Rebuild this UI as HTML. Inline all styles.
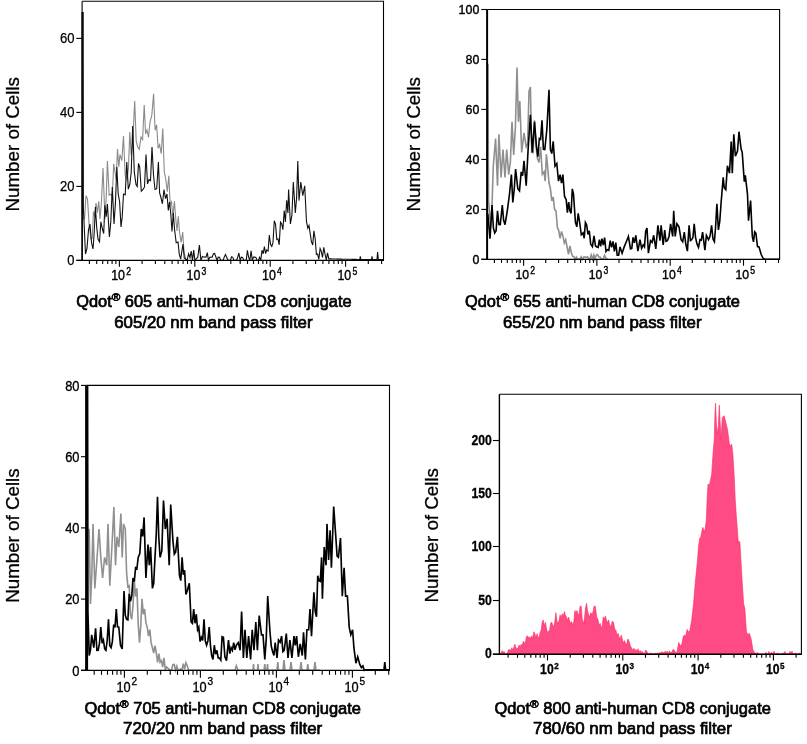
<!DOCTYPE html>
<html><head><meta charset="utf-8"><title>Qdot CD8 conjugates</title>
<style>
html,body{margin:0;padding:0;background:#fff;}
body{width:807px;height:744px;overflow:hidden;}
svg{display:block;}
text{font-family:'Liberation Sans', Arial, sans-serif;fill:#000;}
.cap{stroke:#000;stroke-width:0.7px;}
.tk{stroke:#000;stroke-width:0.15px;}
.tkb{stroke:#000;stroke-width:0.1px;}
</style></head><body>
<svg width="807" height="744" viewBox="0 0 807 744">
<rect width="807" height="744" fill="#fff"/>
<path d="M82.1,1.3H383.5V260.4" fill="none" stroke="#000" stroke-width="1.1"/>
<line x1="76.3" y1="260.4" x2="82.1" y2="260.4" stroke="#000" stroke-width="1.1"/>
<text x="74.4" y="264.8" font-size="14.2" text-anchor="end" font-weight="normal" textLength="7.2" lengthAdjust="spacingAndGlyphs" style="stroke:#000;stroke-width:0.25px">0</text>
<line x1="76.3" y1="186.4" x2="82.1" y2="186.4" stroke="#000" stroke-width="1.1"/>
<text x="74.4" y="190.8" font-size="14.2" text-anchor="end" font-weight="normal" textLength="14.5" lengthAdjust="spacingAndGlyphs" style="stroke:#000;stroke-width:0.25px">20</text>
<line x1="76.3" y1="112.4" x2="82.1" y2="112.4" stroke="#000" stroke-width="1.1"/>
<text x="74.4" y="116.9" font-size="14.2" text-anchor="end" font-weight="normal" textLength="14.5" lengthAdjust="spacingAndGlyphs" style="stroke:#000;stroke-width:0.25px">40</text>
<line x1="76.3" y1="38.4" x2="82.1" y2="38.4" stroke="#000" stroke-width="1.1"/>
<text x="74.4" y="42.9" font-size="14.2" text-anchor="end" font-weight="normal" textLength="14.5" lengthAdjust="spacingAndGlyphs" style="stroke:#000;stroke-width:0.25px">60</text>
<line x1="89.4" y1="260.4" x2="89.4" y2="264.0" stroke="#000" stroke-width="1.1"/>
<line x1="96.7" y1="260.4" x2="96.7" y2="264.0" stroke="#000" stroke-width="1.1"/>
<line x1="102.7" y1="260.4" x2="102.7" y2="264.0" stroke="#000" stroke-width="1.1"/>
<line x1="107.7" y1="260.4" x2="107.7" y2="264.0" stroke="#000" stroke-width="1.1"/>
<line x1="112.1" y1="260.4" x2="112.1" y2="264.0" stroke="#000" stroke-width="1.1"/>
<line x1="115.9" y1="260.4" x2="115.9" y2="264.0" stroke="#000" stroke-width="1.1"/>
<line x1="119.4" y1="260.4" x2="119.4" y2="266.8" stroke="#000" stroke-width="1.1"/>
<text x="118.1" y="279.8" font-size="14.0" text-anchor="middle" font-weight="normal" textLength="13.8" lengthAdjust="spacingAndGlyphs" style="stroke:#000;stroke-width:0.4px">10</text>
<text x="126.2" y="274.8" font-size="10.5" text-anchor="start" font-weight="normal" textLength="4.8" lengthAdjust="spacingAndGlyphs" style="stroke:#000;stroke-width:0.4px">2</text>
<line x1="142.1" y1="260.4" x2="142.1" y2="264.0" stroke="#000" stroke-width="1.1"/>
<line x1="155.4" y1="260.4" x2="155.4" y2="264.0" stroke="#000" stroke-width="1.1"/>
<line x1="164.8" y1="260.4" x2="164.8" y2="264.0" stroke="#000" stroke-width="1.1"/>
<line x1="172.1" y1="260.4" x2="172.1" y2="264.0" stroke="#000" stroke-width="1.1"/>
<line x1="178.1" y1="260.4" x2="178.1" y2="264.0" stroke="#000" stroke-width="1.1"/>
<line x1="183.1" y1="260.4" x2="183.1" y2="264.0" stroke="#000" stroke-width="1.1"/>
<line x1="187.5" y1="260.4" x2="187.5" y2="264.0" stroke="#000" stroke-width="1.1"/>
<line x1="191.3" y1="260.4" x2="191.3" y2="264.0" stroke="#000" stroke-width="1.1"/>
<line x1="194.8" y1="260.4" x2="194.8" y2="266.8" stroke="#000" stroke-width="1.1"/>
<text x="193.5" y="279.8" font-size="14.0" text-anchor="middle" font-weight="normal" textLength="13.8" lengthAdjust="spacingAndGlyphs" style="stroke:#000;stroke-width:0.4px">10</text>
<text x="201.6" y="274.8" font-size="10.5" text-anchor="start" font-weight="normal" textLength="4.8" lengthAdjust="spacingAndGlyphs" style="stroke:#000;stroke-width:0.4px">3</text>
<line x1="217.5" y1="260.4" x2="217.5" y2="264.0" stroke="#000" stroke-width="1.1"/>
<line x1="230.8" y1="260.4" x2="230.8" y2="264.0" stroke="#000" stroke-width="1.1"/>
<line x1="240.2" y1="260.4" x2="240.2" y2="264.0" stroke="#000" stroke-width="1.1"/>
<line x1="247.5" y1="260.4" x2="247.5" y2="264.0" stroke="#000" stroke-width="1.1"/>
<line x1="253.5" y1="260.4" x2="253.5" y2="264.0" stroke="#000" stroke-width="1.1"/>
<line x1="258.5" y1="260.4" x2="258.5" y2="264.0" stroke="#000" stroke-width="1.1"/>
<line x1="262.9" y1="260.4" x2="262.9" y2="264.0" stroke="#000" stroke-width="1.1"/>
<line x1="266.7" y1="260.4" x2="266.7" y2="264.0" stroke="#000" stroke-width="1.1"/>
<line x1="270.2" y1="260.4" x2="270.2" y2="266.8" stroke="#000" stroke-width="1.1"/>
<text x="268.9" y="279.8" font-size="14.0" text-anchor="middle" font-weight="normal" textLength="13.8" lengthAdjust="spacingAndGlyphs" style="stroke:#000;stroke-width:0.4px">10</text>
<text x="277.0" y="274.8" font-size="10.5" text-anchor="start" font-weight="normal" textLength="4.8" lengthAdjust="spacingAndGlyphs" style="stroke:#000;stroke-width:0.4px">4</text>
<line x1="292.9" y1="260.4" x2="292.9" y2="264.0" stroke="#000" stroke-width="1.1"/>
<line x1="306.2" y1="260.4" x2="306.2" y2="264.0" stroke="#000" stroke-width="1.1"/>
<line x1="315.6" y1="260.4" x2="315.6" y2="264.0" stroke="#000" stroke-width="1.1"/>
<line x1="322.9" y1="260.4" x2="322.9" y2="264.0" stroke="#000" stroke-width="1.1"/>
<line x1="328.9" y1="260.4" x2="328.9" y2="264.0" stroke="#000" stroke-width="1.1"/>
<line x1="333.9" y1="260.4" x2="333.9" y2="264.0" stroke="#000" stroke-width="1.1"/>
<line x1="338.3" y1="260.4" x2="338.3" y2="264.0" stroke="#000" stroke-width="1.1"/>
<line x1="342.1" y1="260.4" x2="342.1" y2="264.0" stroke="#000" stroke-width="1.1"/>
<line x1="345.6" y1="260.4" x2="345.6" y2="266.8" stroke="#000" stroke-width="1.1"/>
<text x="344.3" y="279.8" font-size="14.0" text-anchor="middle" font-weight="normal" textLength="13.8" lengthAdjust="spacingAndGlyphs" style="stroke:#000;stroke-width:0.4px">10</text>
<text x="352.4" y="274.8" font-size="10.5" text-anchor="start" font-weight="normal" textLength="4.8" lengthAdjust="spacingAndGlyphs" style="stroke:#000;stroke-width:0.4px">5</text>
<line x1="368.3" y1="260.4" x2="368.3" y2="264.0" stroke="#000" stroke-width="1.1"/>
<line x1="381.6" y1="260.4" x2="381.6" y2="264.0" stroke="#000" stroke-width="1.1"/>
<polyline points="83.0,219.0 84.5,218.9 86.0,195.6 87.5,199.0 89.2,226.3 91.0,239.0 92.2,238.3 93.5,211.5 94.8,216.9 96.0,203.0 97.3,212.8 98.7,201.4 100.0,219.0 101.5,201.3 103.0,168.0 105.0,219.0 106.2,197.7 107.4,161.0 109.2,195.2 111.0,194.0 112.3,197.3 113.7,163.8 115.0,172.0 116.2,179.5 117.5,149.1 118.8,166.8 120.0,154.6 121.8,160.6 123.5,136.0 125.2,175.5 127.0,179.5 128.4,168.9 129.8,132.0 131.2,154.9 132.7,143.0 134.7,101.0 136.2,141.1 137.7,147.0 139.3,149.2 141.0,137.0 142.6,139.6 144.2,105.0 145.6,133.7 147.0,130.0 148.5,137.3 150.0,122.0 151.8,115.4 153.6,93.7 155.1,130.3 156.6,124.8 158.1,148.3 159.6,144.7 161.2,153.7 162.8,128.5 164.3,172.2 165.8,179.5 167.3,191.8 168.8,175.8 170.2,204.6 171.5,202.0 172.9,216.1 174.4,201.4 175.8,219.0 177.0,231.0 178.3,216.3 179.5,232.0 181.1,242.3 182.7,232.0 184.0,252.0 186.0,259.5" fill="none" stroke="#8a8a8a" stroke-width="1.1" stroke-linejoin="miter" stroke-miterlimit="4"/>
<polyline points="83.2,12.0 83.4,209.0 85.5,254.0 87.0,248.2 88.5,229.9 90.0,224.0 91.5,242.5 93.0,249.0 94.2,232.8 95.4,207.0 96.7,227.4 98.0,239.0 99.5,241.8 100.9,221.8 102.4,229.0 103.7,233.6 104.9,205.2 106.2,216.7 107.4,204.0 109.4,237.0 110.8,221.5 112.3,187.0 114.0,224.0 115.4,203.4 116.8,167.0 118.2,194.1 119.6,201.5 121.0,227.0 122.2,216.9 123.5,194.0 125.2,194.8 126.8,162.0 128.3,189.2 129.8,184.5 131.2,172.3 132.7,126.0 134.3,172.2 136.0,184.5 137.2,186.4 138.5,163.4 139.7,167.0 141.3,191.3 143.0,189.5 144.5,186.9 146.0,154.6 147.5,183.9 149.0,179.5 150.5,180.7 152.0,147.0 153.5,175.0 155.0,189.5 156.7,188.7 158.4,162.0 159.6,193.0 160.8,197.0 162.4,203.8 164.0,189.5 165.5,198.7 167.0,194.0 168.3,210.4 169.5,202.0 170.8,214.0 172.0,231.5 173.3,212.7 174.5,229.0 176.2,242.8 178.0,242.0 179.3,254.3 180.7,259.0 183.0,244.0 184.3,258.2 185.7,259.0 187.1,260.4 188.6,253.8 190.0,257.6 191.2,251.1 192.5,260.4 193.7,250.0 194.9,260.4 196.2,258.9 197.8,257.2 199.4,245.0 200.9,260.4 202.4,256.4 203.6,257.0 204.9,257.1 206.1,256.9 207.3,252.7 208.5,260.4 209.7,257.4 210.9,257.0 212.2,257.2 213.4,253.8 214.6,253.5 215.8,256.8 217.0,260.4 218.2,257.2 219.5,257.3 220.7,260.4 221.9,260.4 223.1,260.4 224.3,256.9 225.5,254.5 226.7,257.2 228.0,260.4 229.2,260.4 230.4,260.4 231.6,256.8 232.8,257.3 234.0,260.4 235.3,260.4 236.5,260.4 237.7,257.3 238.9,253.0 240.1,260.4 241.3,257.1 242.6,257.4 243.8,260.4 245.0,260.4 246.2,260.4 247.4,250.4 248.6,257.2 249.8,260.4 251.1,250.9 252.3,260.4 253.5,257.1 254.7,257.1 255.9,257.4 257.1,260.4 258.4,260.4 259.6,257.3 260.8,260.4 262.0,250.2 263.2,253.7 264.4,246.7 265.6,253.5 266.8,250.0 268.1,251.0 269.3,235.0 270.6,244.6 271.8,246.5 273.0,242.4 274.3,220.8 275.5,224.0 276.8,239.4 278.0,239.0 279.2,244.8 280.5,222.2 281.7,224.0 282.9,229.7 284.2,210.5 285.4,222.0 286.7,200.2 287.9,213.0 288.6,189.5 290.4,224.0 291.9,215.4 293.3,182.0 295.3,213.0 296.6,197.9 297.8,161.0 299.0,200.6 300.8,182.0 302.8,195.7 304.7,185.8 306.5,221.7 307.8,228.1 309.0,225.4 311.4,241.5 312.7,245.0 313.9,230.9 315.2,239.0 316.4,254.4 317.6,254.0 318.8,259.4 320.1,248.6 321.3,251.4 322.5,257.5 323.8,247.4 325.0,254.0 326.3,260.0 327.5,252.9 328.8,258.9 330.0,258.9 331.3,258.9 332.5,259.0 333.8,259.0 335.0,259.0 336.2,259.0 337.5,259.1 338.7,259.1 340.0,259.1 341.2,259.1 342.4,259.2 343.7,259.2 344.9,259.2 346.2,259.2 347.4,259.3 348.6,259.3 349.9,259.3 351.1,259.3 352.4,259.4 353.6,259.4 354.8,259.4 356.1,259.4 357.3,259.5 358.6,259.5 359.8,259.5 360.3,256.4 360.8,259.5 362.1,259.5 363.5,259.5 364.8,259.5 366.1,259.5 367.5,259.5 368.8,259.5 370.2,259.5 371.5,259.5 372.0,256.4 372.5,259.5 374.0,259.5 375.5,259.5 377.0,259.5 377.6,252.0 378.3,259.5 379.9,259.5 381.4,259.5 383.0,259.5" fill="none" stroke="#111" stroke-width="1.1" stroke-linejoin="miter" stroke-miterlimit="4"/>
<line x1="82.1" y1="1.3" x2="82.1" y2="12.0" stroke="#000" stroke-width="1.1"/>
<line x1="82.1" y1="12.0" x2="82.1" y2="260.9" stroke="#000" stroke-width="1.7"/>
<line x1="76.3" y1="260.4" x2="384.0" y2="260.4" stroke="#000" stroke-width="1.2"/>
<text transform="translate(19.4,144.3) rotate(-90)" x="0" y="0" font-size="18.8" text-anchor="middle" textLength="134.5" style="stroke:#000;stroke-width:0.3px" lengthAdjust="spacingAndGlyphs">Number of Cells</text>
<text class="cap" x="76.2" y="306.6" font-size="16.2" textLength="275.4" lengthAdjust="spacingAndGlyphs">Qdot<tspan font-size="11.5" dy="-5.2">®</tspan><tspan dy="5.2"> 605 anti-human CD8 conjugate</tspan></text>
<text class="cap" x="114.2" y="328.0" font-size="16.2" textLength="198.4" lengthAdjust="spacingAndGlyphs">605/20 nm band pass filter</text>
<path d="M487.1,9.5H779.6V259.3" fill="none" stroke="#000" stroke-width="1.1"/>
<line x1="481.3" y1="259.3" x2="487.1" y2="259.3" stroke="#000" stroke-width="1.1"/>
<text x="479.3" y="264.0" font-size="13.2" text-anchor="end" font-weight="normal" textLength="6.9" lengthAdjust="spacingAndGlyphs" style="stroke:#000;stroke-width:0.4px">0</text>
<line x1="481.3" y1="209.4" x2="487.1" y2="209.4" stroke="#000" stroke-width="1.1"/>
<text x="479.3" y="214.1" font-size="13.2" text-anchor="end" font-weight="normal" textLength="13.8" lengthAdjust="spacingAndGlyphs" style="stroke:#000;stroke-width:0.4px">20</text>
<line x1="481.3" y1="159.4" x2="487.1" y2="159.4" stroke="#000" stroke-width="1.1"/>
<text x="479.3" y="164.1" font-size="13.2" text-anchor="end" font-weight="normal" textLength="13.8" lengthAdjust="spacingAndGlyphs" style="stroke:#000;stroke-width:0.4px">40</text>
<line x1="481.3" y1="109.4" x2="487.1" y2="109.4" stroke="#000" stroke-width="1.1"/>
<text x="479.3" y="114.1" font-size="13.2" text-anchor="end" font-weight="normal" textLength="13.8" lengthAdjust="spacingAndGlyphs" style="stroke:#000;stroke-width:0.4px">60</text>
<line x1="481.3" y1="59.4" x2="487.1" y2="59.4" stroke="#000" stroke-width="1.1"/>
<text x="479.3" y="64.1" font-size="13.2" text-anchor="end" font-weight="normal" textLength="13.8" lengthAdjust="spacingAndGlyphs" style="stroke:#000;stroke-width:0.4px">80</text>
<line x1="481.3" y1="9.5" x2="487.1" y2="9.5" stroke="#000" stroke-width="1.1"/>
<text x="479.3" y="14.2" font-size="13.2" text-anchor="end" font-weight="normal" textLength="20.7" lengthAdjust="spacingAndGlyphs" style="stroke:#000;stroke-width:0.4px">100</text>
<line x1="494.4" y1="259.3" x2="494.4" y2="262.9" stroke="#000" stroke-width="1.1"/>
<line x1="501.5" y1="259.3" x2="501.5" y2="262.9" stroke="#000" stroke-width="1.1"/>
<line x1="507.3" y1="259.3" x2="507.3" y2="262.9" stroke="#000" stroke-width="1.1"/>
<line x1="512.2" y1="259.3" x2="512.2" y2="262.9" stroke="#000" stroke-width="1.1"/>
<line x1="516.5" y1="259.3" x2="516.5" y2="262.9" stroke="#000" stroke-width="1.1"/>
<line x1="520.2" y1="259.3" x2="520.2" y2="262.9" stroke="#000" stroke-width="1.1"/>
<line x1="523.6" y1="259.3" x2="523.6" y2="265.7" stroke="#000" stroke-width="1.1"/>
<text x="522.3" y="278.9" font-size="13.6" text-anchor="middle" font-weight="normal" textLength="13.6" lengthAdjust="spacingAndGlyphs" style="stroke:#000;stroke-width:0.4px">10</text>
<text x="530.3" y="273.9" font-size="10.5" text-anchor="start" font-weight="normal" textLength="4.8" lengthAdjust="spacingAndGlyphs" style="stroke:#000;stroke-width:0.4px">2</text>
<line x1="545.7" y1="259.3" x2="545.7" y2="262.9" stroke="#000" stroke-width="1.1"/>
<line x1="558.6" y1="259.3" x2="558.6" y2="262.9" stroke="#000" stroke-width="1.1"/>
<line x1="567.7" y1="259.3" x2="567.7" y2="262.9" stroke="#000" stroke-width="1.1"/>
<line x1="574.8" y1="259.3" x2="574.8" y2="262.9" stroke="#000" stroke-width="1.1"/>
<line x1="580.6" y1="259.3" x2="580.6" y2="262.9" stroke="#000" stroke-width="1.1"/>
<line x1="585.5" y1="259.3" x2="585.5" y2="262.9" stroke="#000" stroke-width="1.1"/>
<line x1="589.8" y1="259.3" x2="589.8" y2="262.9" stroke="#000" stroke-width="1.1"/>
<line x1="593.5" y1="259.3" x2="593.5" y2="262.9" stroke="#000" stroke-width="1.1"/>
<line x1="596.9" y1="259.3" x2="596.9" y2="265.7" stroke="#000" stroke-width="1.1"/>
<text x="595.6" y="278.9" font-size="13.6" text-anchor="middle" font-weight="normal" textLength="13.6" lengthAdjust="spacingAndGlyphs" style="stroke:#000;stroke-width:0.4px">10</text>
<text x="603.6" y="273.9" font-size="10.5" text-anchor="start" font-weight="normal" textLength="4.8" lengthAdjust="spacingAndGlyphs" style="stroke:#000;stroke-width:0.4px">3</text>
<line x1="619.0" y1="259.3" x2="619.0" y2="262.9" stroke="#000" stroke-width="1.1"/>
<line x1="631.9" y1="259.3" x2="631.9" y2="262.9" stroke="#000" stroke-width="1.1"/>
<line x1="641.0" y1="259.3" x2="641.0" y2="262.9" stroke="#000" stroke-width="1.1"/>
<line x1="648.1" y1="259.3" x2="648.1" y2="262.9" stroke="#000" stroke-width="1.1"/>
<line x1="653.9" y1="259.3" x2="653.9" y2="262.9" stroke="#000" stroke-width="1.1"/>
<line x1="658.8" y1="259.3" x2="658.8" y2="262.9" stroke="#000" stroke-width="1.1"/>
<line x1="663.1" y1="259.3" x2="663.1" y2="262.9" stroke="#000" stroke-width="1.1"/>
<line x1="666.8" y1="259.3" x2="666.8" y2="262.9" stroke="#000" stroke-width="1.1"/>
<line x1="670.2" y1="259.3" x2="670.2" y2="265.7" stroke="#000" stroke-width="1.1"/>
<text x="668.9" y="278.9" font-size="13.6" text-anchor="middle" font-weight="normal" textLength="13.6" lengthAdjust="spacingAndGlyphs" style="stroke:#000;stroke-width:0.4px">10</text>
<text x="676.9" y="273.9" font-size="10.5" text-anchor="start" font-weight="normal" textLength="4.8" lengthAdjust="spacingAndGlyphs" style="stroke:#000;stroke-width:0.4px">4</text>
<line x1="692.3" y1="259.3" x2="692.3" y2="262.9" stroke="#000" stroke-width="1.1"/>
<line x1="705.2" y1="259.3" x2="705.2" y2="262.9" stroke="#000" stroke-width="1.1"/>
<line x1="714.3" y1="259.3" x2="714.3" y2="262.9" stroke="#000" stroke-width="1.1"/>
<line x1="721.4" y1="259.3" x2="721.4" y2="262.9" stroke="#000" stroke-width="1.1"/>
<line x1="727.2" y1="259.3" x2="727.2" y2="262.9" stroke="#000" stroke-width="1.1"/>
<line x1="732.1" y1="259.3" x2="732.1" y2="262.9" stroke="#000" stroke-width="1.1"/>
<line x1="736.4" y1="259.3" x2="736.4" y2="262.9" stroke="#000" stroke-width="1.1"/>
<line x1="740.1" y1="259.3" x2="740.1" y2="262.9" stroke="#000" stroke-width="1.1"/>
<line x1="743.5" y1="259.3" x2="743.5" y2="265.7" stroke="#000" stroke-width="1.1"/>
<text x="742.2" y="278.9" font-size="13.6" text-anchor="middle" font-weight="normal" textLength="13.6" lengthAdjust="spacingAndGlyphs" style="stroke:#000;stroke-width:0.4px">10</text>
<text x="750.2" y="273.9" font-size="10.5" text-anchor="start" font-weight="normal" textLength="4.8" lengthAdjust="spacingAndGlyphs" style="stroke:#000;stroke-width:0.4px">5</text>
<line x1="765.6" y1="259.3" x2="765.6" y2="262.9" stroke="#000" stroke-width="1.1"/>
<line x1="778.5" y1="259.3" x2="778.5" y2="262.9" stroke="#000" stroke-width="1.1"/>
<polyline points="488.0,63.7 488.5,199.7 490.6,227.5 492.0,206.0 493.3,166.0 495.6,138.5 497.5,185.8 498.9,134.3 501.1,177.4 503.0,149.6 505.0,177.4 506.7,149.6 508.7,174.6 510.4,161.6 512.0,121.8 513.7,155.0 515.4,127.2 517.0,67.5 518.4,121.8 519.8,101.0 521.7,152.4 524.0,133.0 526.2,146.8 527.6,143.9 529.0,91.5 530.4,87.0 531.7,152.4 533.1,152.6 534.5,120.4 535.9,144.6 537.3,158.0 539.0,162.5 540.6,146.8 542.3,174.3 544.0,171.9 545.2,181.2 546.4,154.3 547.6,166.3 549.0,182.8 550.4,188.6 551.8,200.9 553.2,197.0 554.6,209.5 556.0,210.8 557.4,227.5 558.7,230.3 560.1,238.3 561.5,231.4 562.9,235.9 564.3,243.1 565.7,239.8 567.1,247.0 568.5,254.4 569.9,246.0 571.3,252.5 572.6,256.4 574.0,256.7 575.2,259.3 576.4,257.2 577.6,259.3 578.8,259.3 580.0,259.0 581.2,256.8 582.5,259.3 583.8,257.1 585.0,257.0 586.2,257.2 587.5,256.8 588.8,259.3 590.0,258.5 591.2,254.9 592.5,259.3 593.8,255.0 595.0,259.3 596.2,255.2 597.5,254.5 598.8,257.0 600.0,257.0 601.5,259.3 603.1,259.3 604.6,255.3 606.3,259.3 608.0,259.0" fill="none" stroke="#8f8f8f" stroke-width="1.6" stroke-linejoin="miter" stroke-miterlimit="4"/>
<polyline points="487.8,213.6 490.0,238.6 492.0,205.0 493.4,227.9 494.7,233.0 496.1,230.7 497.5,210.8 498.9,224.5 500.3,224.7 502.3,205.0 503.6,220.1 505.0,224.7 507.3,210.8 509.5,194.0 511.4,174.6 512.8,202.5 514.2,189.8 515.6,169.0 517.8,188.6 519.5,190.9 521.2,171.9 522.6,175.8 524.0,160.7 526.2,185.8 528.1,149.6 530.4,114.8 532.3,152.4 534.5,121.8 536.5,146.8 537.9,156.6 539.3,138.5 540.6,139.3 542.0,120.4 543.4,149.4 544.8,149.6 546.8,130.0 549.0,89.8 550.4,149.6 551.8,153.6 553.2,141.3 555.0,166.2 556.8,163.5 558.5,181.1 560.1,174.6 561.5,183.1 562.9,174.6 564.5,196.2 566.2,199.7 567.4,212.7 568.7,202.0 569.9,210.8 571.1,213.3 572.3,188.9 573.5,194.0 575.4,222.0 576.8,226.9 578.2,213.3 579.6,222.0 581.3,234.8 583.0,233.0 584.2,238.3 585.4,222.4 586.6,224.7 588.0,234.4 589.3,230.8 590.7,244.2 592.4,246.6 594.0,235.9 595.5,246.0 596.9,247.0 598.1,247.4 599.4,239.7 600.6,246.3 601.9,238.6 603.3,245.1 604.6,237.6 606.0,251.5 607.4,249.8 608.8,250.4 610.2,240.6 611.6,247.4 613.0,241.4 614.4,251.3 615.8,242.7 617.2,255.3 618.6,255.3 620.0,246.9 622.1,253.2 624.2,246.9 626.3,241.7 628.4,236.4 630.5,249.0 631.8,248.5 633.0,237.4 634.4,242.8 635.8,235.3 637.9,251.1 640.0,239.6 641.6,248.4 643.2,244.8 644.5,246.8 645.7,230.9 647.0,228.0 648.4,253.2 650.5,240.6 652.1,242.3 653.7,235.3 655.8,249.0 657.9,225.4 660.0,240.6 661.1,225.4 663.2,244.8 664.7,230.0 666.0,241.3 667.4,240.6 669.0,236.7 670.6,223.8 672.7,236.4 673.7,210.7 675.2,236.4 676.9,223.8 679.0,226.9 681.1,239.6 682.7,241.8 684.3,232.2 685.8,244.3 687.4,251.1 689.1,225.4 690.4,240.5 691.6,239.6 692.9,237.6 694.2,223.8 695.5,237.1 696.9,243.8 698.5,247.3 700.0,239.6 701.3,240.2 702.6,232.2 704.9,250.1 706.4,235.3 708.5,239.6 710.0,236.3 711.6,225.4 713.0,239.0 714.4,241.7 715.6,226.7 716.9,203.7 718.4,230.0 719.8,221.1 721.1,202.7 723.2,177.4 724.3,188.0 725.8,189.8 727.4,165.8 729.5,173.2 731.2,141.6 732.3,173.2 733.8,134.2 735.4,156.3 737.5,151.1 739.0,131.7 741.1,149.0 742.2,152.1 744.3,181.6 745.3,175.3 747.5,194.3 748.5,220.6 750.6,200.6 752.3,236.4 753.5,241.9 754.7,231.7 755.9,233.2 757.5,246.5 759.0,246.9 761.1,254.3 763.2,258.5 765.0,259.3 766.3,259.3 767.5,259.3 768.8,259.3 770.1,259.3 771.4,259.3 772.6,259.3 773.9,259.3 775.2,259.3 776.5,259.3 777.7,259.3 779.0,259.3" fill="none" stroke="#000" stroke-width="1.6" stroke-linejoin="miter" stroke-miterlimit="4"/>
<line x1="487.1" y1="9.5" x2="487.1" y2="259.8" stroke="#000" stroke-width="2.0"/>
<line x1="481.3" y1="259.3" x2="780.1" y2="259.3" stroke="#000" stroke-width="1.2"/>
<text transform="translate(420.4,144.3) rotate(-90)" x="0" y="0" font-size="18.8" text-anchor="middle" textLength="134.5" style="stroke:#000;stroke-width:0.3px" lengthAdjust="spacingAndGlyphs">Number of Cells</text>
<text class="cap" x="465.0" y="306.6" font-size="16.2" textLength="274.9" lengthAdjust="spacingAndGlyphs">Qdot<tspan font-size="11.5" dy="-5.2">®</tspan><tspan dy="5.2"> 655 anti-human CD8 conjugate</tspan></text>
<text class="cap" x="503.0" y="328.0" font-size="16.2" textLength="198.5" lengthAdjust="spacingAndGlyphs">655/20 nm band pass filter</text>
<path d="M86.6,385.4H389.5V670.3" fill="none" stroke="#000" stroke-width="1.1"/>
<line x1="81.0" y1="670.3" x2="86.6" y2="670.3" stroke="#000" stroke-width="1.1"/>
<text x="79.5" y="675.5" font-size="15.4" text-anchor="end" font-weight="normal" textLength="7.2" lengthAdjust="spacingAndGlyphs" style="stroke:#000;stroke-width:0.35px">0</text>
<line x1="81.0" y1="599.1" x2="86.6" y2="599.1" stroke="#000" stroke-width="1.1"/>
<text x="79.5" y="604.3" font-size="15.4" text-anchor="end" font-weight="normal" textLength="14.3" lengthAdjust="spacingAndGlyphs" style="stroke:#000;stroke-width:0.35px">20</text>
<line x1="81.0" y1="527.9" x2="86.6" y2="527.9" stroke="#000" stroke-width="1.1"/>
<text x="79.5" y="533.1" font-size="15.4" text-anchor="end" font-weight="normal" textLength="14.3" lengthAdjust="spacingAndGlyphs" style="stroke:#000;stroke-width:0.35px">40</text>
<line x1="81.0" y1="456.7" x2="86.6" y2="456.7" stroke="#000" stroke-width="1.1"/>
<text x="79.5" y="461.9" font-size="15.4" text-anchor="end" font-weight="normal" textLength="14.3" lengthAdjust="spacingAndGlyphs" style="stroke:#000;stroke-width:0.35px">60</text>
<line x1="81.0" y1="385.4" x2="86.6" y2="385.4" stroke="#000" stroke-width="1.1"/>
<text x="79.5" y="390.6" font-size="15.4" text-anchor="end" font-weight="normal" textLength="14.3" lengthAdjust="spacingAndGlyphs" style="stroke:#000;stroke-width:0.35px">80</text>
<line x1="94.2" y1="670.3" x2="94.2" y2="674.8" stroke="#000" stroke-width="1.1"/>
<line x1="101.5" y1="670.3" x2="101.5" y2="674.8" stroke="#000" stroke-width="1.1"/>
<line x1="107.5" y1="670.3" x2="107.5" y2="674.8" stroke="#000" stroke-width="1.1"/>
<line x1="112.6" y1="670.3" x2="112.6" y2="674.8" stroke="#000" stroke-width="1.1"/>
<line x1="117.0" y1="670.3" x2="117.0" y2="674.8" stroke="#000" stroke-width="1.1"/>
<line x1="120.9" y1="670.3" x2="120.9" y2="674.8" stroke="#000" stroke-width="1.1"/>
<line x1="124.4" y1="670.3" x2="124.4" y2="677.7" stroke="#000" stroke-width="1.1"/>
<text x="123.6" y="692.3" font-size="15.2" text-anchor="middle" font-weight="normal" textLength="14.2" lengthAdjust="spacingAndGlyphs" style="stroke:#000;stroke-width:0.35px">10</text>
<text x="131.6" y="685.3" font-size="11.2" text-anchor="start" font-weight="normal" textLength="5.6" lengthAdjust="spacingAndGlyphs" style="stroke:#000;stroke-width:0.35px">2</text>
<line x1="147.3" y1="670.3" x2="147.3" y2="674.8" stroke="#000" stroke-width="1.1"/>
<line x1="160.7" y1="670.3" x2="160.7" y2="674.8" stroke="#000" stroke-width="1.1"/>
<line x1="170.2" y1="670.3" x2="170.2" y2="674.8" stroke="#000" stroke-width="1.1"/>
<line x1="177.5" y1="670.3" x2="177.5" y2="674.8" stroke="#000" stroke-width="1.1"/>
<line x1="183.5" y1="670.3" x2="183.5" y2="674.8" stroke="#000" stroke-width="1.1"/>
<line x1="188.6" y1="670.3" x2="188.6" y2="674.8" stroke="#000" stroke-width="1.1"/>
<line x1="193.0" y1="670.3" x2="193.0" y2="674.8" stroke="#000" stroke-width="1.1"/>
<line x1="196.9" y1="670.3" x2="196.9" y2="674.8" stroke="#000" stroke-width="1.1"/>
<line x1="200.4" y1="670.3" x2="200.4" y2="677.7" stroke="#000" stroke-width="1.1"/>
<text x="199.6" y="692.3" font-size="15.2" text-anchor="middle" font-weight="normal" textLength="14.2" lengthAdjust="spacingAndGlyphs" style="stroke:#000;stroke-width:0.35px">10</text>
<text x="207.6" y="685.3" font-size="11.2" text-anchor="start" font-weight="normal" textLength="5.6" lengthAdjust="spacingAndGlyphs" style="stroke:#000;stroke-width:0.35px">3</text>
<line x1="223.3" y1="670.3" x2="223.3" y2="674.8" stroke="#000" stroke-width="1.1"/>
<line x1="236.7" y1="670.3" x2="236.7" y2="674.8" stroke="#000" stroke-width="1.1"/>
<line x1="246.2" y1="670.3" x2="246.2" y2="674.8" stroke="#000" stroke-width="1.1"/>
<line x1="253.5" y1="670.3" x2="253.5" y2="674.8" stroke="#000" stroke-width="1.1"/>
<line x1="259.5" y1="670.3" x2="259.5" y2="674.8" stroke="#000" stroke-width="1.1"/>
<line x1="264.6" y1="670.3" x2="264.6" y2="674.8" stroke="#000" stroke-width="1.1"/>
<line x1="269.0" y1="670.3" x2="269.0" y2="674.8" stroke="#000" stroke-width="1.1"/>
<line x1="272.9" y1="670.3" x2="272.9" y2="674.8" stroke="#000" stroke-width="1.1"/>
<line x1="276.4" y1="670.3" x2="276.4" y2="677.7" stroke="#000" stroke-width="1.1"/>
<text x="275.6" y="692.3" font-size="15.2" text-anchor="middle" font-weight="normal" textLength="14.2" lengthAdjust="spacingAndGlyphs" style="stroke:#000;stroke-width:0.35px">10</text>
<text x="283.6" y="685.3" font-size="11.2" text-anchor="start" font-weight="normal" textLength="5.6" lengthAdjust="spacingAndGlyphs" style="stroke:#000;stroke-width:0.35px">4</text>
<line x1="299.3" y1="670.3" x2="299.3" y2="674.8" stroke="#000" stroke-width="1.1"/>
<line x1="312.7" y1="670.3" x2="312.7" y2="674.8" stroke="#000" stroke-width="1.1"/>
<line x1="322.2" y1="670.3" x2="322.2" y2="674.8" stroke="#000" stroke-width="1.1"/>
<line x1="329.5" y1="670.3" x2="329.5" y2="674.8" stroke="#000" stroke-width="1.1"/>
<line x1="335.5" y1="670.3" x2="335.5" y2="674.8" stroke="#000" stroke-width="1.1"/>
<line x1="340.6" y1="670.3" x2="340.6" y2="674.8" stroke="#000" stroke-width="1.1"/>
<line x1="345.0" y1="670.3" x2="345.0" y2="674.8" stroke="#000" stroke-width="1.1"/>
<line x1="348.9" y1="670.3" x2="348.9" y2="674.8" stroke="#000" stroke-width="1.1"/>
<line x1="352.4" y1="670.3" x2="352.4" y2="677.7" stroke="#000" stroke-width="1.1"/>
<text x="351.6" y="692.3" font-size="15.2" text-anchor="middle" font-weight="normal" textLength="14.2" lengthAdjust="spacingAndGlyphs" style="stroke:#000;stroke-width:0.35px">10</text>
<text x="359.6" y="685.3" font-size="11.2" text-anchor="start" font-weight="normal" textLength="5.6" lengthAdjust="spacingAndGlyphs" style="stroke:#000;stroke-width:0.35px">5</text>
<line x1="375.3" y1="670.3" x2="375.3" y2="674.8" stroke="#000" stroke-width="1.1"/>
<line x1="388.7" y1="670.3" x2="388.7" y2="674.8" stroke="#000" stroke-width="1.1"/>
<polyline points="89.0,528.8 89.2,531.6 90.5,603.9 91.8,574.1 93.0,523.9 94.8,588.4 96.9,560.0 99.0,529.0 100.8,557.4 102.6,578.0 104.6,557.4 106.7,565.2 108.0,523.9 109.8,585.8 111.9,547.0 113.9,507.1 115.5,565.2 117.0,536.8 118.8,547.0 120.9,513.5 122.2,557.4 123.5,523.9 125.3,529.0 126.6,572.9 127.9,586.7 129.2,585.8 130.4,614.6 131.7,619.4 133.0,605.7 134.3,580.6 135.6,596.4 136.9,588.4 138.2,623.6 139.5,642.6 140.8,625.4 142.0,598.7 143.3,614.2 144.6,609.0 145.9,622.7 147.2,627.1 148.5,636.2 149.8,629.7 151.1,642.7 152.4,647.7 153.7,653.0 155.0,645.6 156.3,652.9 157.6,662.4 158.9,653.6 160.1,662.2 161.4,660.6 162.7,667.2 164.0,657.8 165.3,669.4 166.6,667.0 168.3,668.6 170.0,670.3 171.4,670.3 172.9,664.7 174.3,664.5 175.5,670.3 176.8,666.2 178.0,670.3 179.3,669.7 180.6,669.0 181.9,670.3 183.3,663.7 184.6,669.2 185.9,662.7 187.2,665.8 188.6,670.3 190.0,670.3 191.2,670.3 192.4,670.3 193.6,670.3 194.9,670.3 196.1,670.3 197.3,670.3 198.5,670.3 199.7,670.3 200.9,670.3 202.2,670.3 203.4,670.3 204.6,670.3 205.8,670.3 207.0,670.3 208.2,670.3 209.5,670.3 210.7,670.3 211.9,670.3 213.1,670.3 214.3,670.3 215.5,670.3 216.8,670.3 218.0,670.3 219.2,670.3 220.4,670.3 221.6,670.3 222.8,670.3 224.1,670.3 225.3,670.3 226.5,670.3 227.7,670.3 228.9,670.3 230.1,670.3 231.4,670.3 232.6,670.3 233.8,670.3 235.0,670.3 236.3,665.8 238.0,670.3 239.2,670.3 240.5,670.3 241.8,670.3 243.0,670.3 244.2,670.3 245.5,670.3 246.8,670.3 248.0,670.3 249.2,670.3 250.5,670.3 251.8,670.3 253.0,670.3 253.5,664.0 254.0,670.3 255.8,670.3 257.5,670.3 258.0,664.0 258.5,670.3 259.9,670.3 261.2,670.3 262.6,670.3 264.0,670.3 264.8,664.0 265.5,670.3 267.0,670.3 267.5,664.0 268.0,670.3 269.3,670.3 270.6,670.3 271.9,670.3 273.1,670.3 274.4,670.3 275.7,670.3 277.0,670.3 277.8,662.0 278.5,670.3 280.0,670.3 281.5,670.3 283.0,670.3 284.0,660.0 285.0,670.3 286.2,670.3 287.5,670.3 288.8,670.3 290.0,670.3 291.0,662.0 292.0,670.3 293.3,670.3 294.7,670.3 296.0,670.3 297.3,670.3 298.7,670.3 300.0,670.3 301.0,662.0 302.0,670.3 303.2,670.3 304.5,670.3 305.8,670.3 307.0,670.3 307.8,664.0 308.5,670.3 309.9,670.3 311.2,670.3 312.6,670.3 314.0,670.3 315.0,662.0 316.0,670.3 317.3,670.3 318.7,670.3 320.0,670.3" fill="none" stroke="#909090" stroke-width="1.6" stroke-linejoin="miter" stroke-miterlimit="4"/>
<polyline points="87.5,386.0 87.9,611.6 89.2,655.5 90.5,649.9 91.7,634.8 93.8,647.7 95.6,628.4 96.9,650.4 98.2,650.3 99.5,643.2 100.8,627.1 102.1,643.2 103.4,640.0 104.7,648.9 105.9,650.3 107.2,640.5 108.5,619.4 109.8,645.8 111.1,647.7 112.4,641.4 113.7,624.5 115.0,627.5 116.3,609.0 117.5,626.9 118.8,627.1 120.5,645.2 122.2,649.0 124.0,591.0 125.3,615.3 126.6,619.4 127.9,619.8 129.2,593.8 130.5,601.3 131.8,595.9 133.0,578.0 134.3,581.5 135.6,567.7 136.9,568.7 138.2,557.4 139.8,553.5 141.3,529.0 142.7,536.4 144.1,517.4 145.9,578.0 148.0,544.5 149.3,565.2 150.6,547.1 152.4,588.4 153.7,583.5 155.0,557.4 156.2,535.5 157.5,496.8 158.8,537.8 160.1,557.4 161.8,551.0 163.5,500.6 165.3,529.0 167.1,518.7 169.2,565.2 170.7,504.5 173.0,541.9 174.3,554.2 175.6,552.3 177.4,536.8 179.5,575.5 180.8,580.6 182.1,557.4 183.3,574.8 184.6,570.3 185.9,594.4 187.2,591.0 189.3,583.2 191.1,622.0 192.4,623.3 193.7,609.0 195.0,623.3 196.3,614.2 197.6,629.7 198.8,627.1 200.1,641.6 201.4,637.4 202.7,640.4 204.0,619.4 205.3,641.1 206.6,645.2 207.9,640.9 209.2,627.1 210.4,645.1 211.7,655.5 213.0,659.5 214.3,645.2 215.6,654.2 216.9,650.3 218.2,658.0 219.5,658.1 220.8,660.2 222.1,636.8 223.4,637.4 224.9,656.9 226.5,660.6 228.5,640.0 229.8,653.6 231.1,647.7 232.4,650.4 233.7,642.6 235.0,649.8 236.3,645.2 238.3,642.6 240.1,650.3 241.6,611.6 243.4,658.0 245.0,629.7 246.8,658.0 248.6,636.1 250.6,659.4 252.2,629.7 254.0,650.3 255.8,622.0 257.4,650.3 259.2,615.5 261.5,634.8 263.0,634.8 264.8,659.4 266.2,639.6 267.7,596.1 270.0,632.3 271.3,646.3 272.6,651.6 273.9,655.5 275.2,642.6 277.0,658.0 278.5,640.0 280.1,642.3 281.6,636.1 282.9,651.6 284.2,650.3 286.3,633.5 288.0,658.0 289.9,640.0 291.9,658.0 294.0,636.1 295.3,645.5 296.6,636.1 298.4,656.8 300.2,643.9 302.3,655.5 303.5,632.3 305.4,659.4 306.9,629.7 308.7,629.7 310.0,609.0 311.5,636.1 313.9,592.3 315.2,611.6 316.5,616.7 317.7,575.8 319.0,580.6 320.3,581.4 321.6,557.4 322.4,598.7 324.2,547.1 326.0,565.2 327.0,523.9 328.6,560.0 330.1,530.3 331.4,567.7 333.7,506.6 335.8,536.8 337.1,556.2 338.4,557.4 340.5,538.1 342.3,596.1 344.1,567.7 345.6,596.1 347.4,596.1 349.2,627.1 350.8,634.8 352.6,629.7 353.9,647.7 355.9,663.2 357.7,656.8 359.8,664.5 361.4,667.5 362.9,665.8 364.2,670.3 365.5,669.7 366.7,669.7 368.0,669.7 369.2,669.7 370.4,669.7 371.7,669.7 372.9,669.7 374.1,669.7 375.4,669.7 376.6,669.7 377.8,669.7 379.1,669.7 380.3,669.7 381.5,669.7 382.8,669.7 384.0,669.7 384.8,662.0 385.6,669.7 387.3,669.7 389.0,669.7" fill="none" stroke="#000" stroke-width="1.65" stroke-linejoin="miter" stroke-miterlimit="4"/>
<line x1="86.6" y1="385.4" x2="86.6" y2="670.8" stroke="#000" stroke-width="3.0"/>
<line x1="81.0" y1="670.3" x2="390.0" y2="670.3" stroke="#000" stroke-width="1.2"/>
<text transform="translate(19.3,535.6) rotate(-90)" x="0" y="0" font-size="18.8" text-anchor="middle" textLength="134.5" style="stroke:#000;stroke-width:0.3px" lengthAdjust="spacingAndGlyphs">Number of Cells</text>
<text class="cap" x="84.4" y="713.6" font-size="16.2" textLength="276.6" lengthAdjust="spacingAndGlyphs">Qdot<tspan font-size="11.5" dy="-5.2">®</tspan><tspan dy="5.2"> 705 anti-human CD8 conjugate</tspan></text>
<text class="cap" x="123.0" y="734.4" font-size="16.2" textLength="199.2" lengthAdjust="spacingAndGlyphs">720/20 nm band pass filter</text>
<path d="M499.4,394.3H801.4V654.2" fill="none" stroke="#000" stroke-width="1.1"/>
<line x1="492.9" y1="654.2" x2="499.4" y2="654.2" stroke="#000" stroke-width="1.1"/>
<text x="491.8" y="658.3" font-size="14.8" text-anchor="end" font-weight="bold" textLength="6.8" lengthAdjust="spacingAndGlyphs" style="stroke:#000;stroke-width:0.3px">0</text>
<line x1="492.9" y1="600.5" x2="499.4" y2="600.5" stroke="#000" stroke-width="1.1"/>
<text x="491.8" y="604.6" font-size="14.8" text-anchor="end" font-weight="bold" textLength="13.6" lengthAdjust="spacingAndGlyphs" style="stroke:#000;stroke-width:0.3px">50</text>
<line x1="492.9" y1="546.5" x2="499.4" y2="546.5" stroke="#000" stroke-width="1.1"/>
<text x="491.8" y="550.6" font-size="14.8" text-anchor="end" font-weight="bold" textLength="20.4" lengthAdjust="spacingAndGlyphs" style="stroke:#000;stroke-width:0.3px">100</text>
<line x1="492.9" y1="493.5" x2="499.4" y2="493.5" stroke="#000" stroke-width="1.1"/>
<text x="491.8" y="497.6" font-size="14.8" text-anchor="end" font-weight="bold" textLength="20.4" lengthAdjust="spacingAndGlyphs" style="stroke:#000;stroke-width:0.3px">150</text>
<line x1="492.9" y1="440.5" x2="499.4" y2="440.5" stroke="#000" stroke-width="1.1"/>
<text x="491.8" y="444.6" font-size="14.8" text-anchor="end" font-weight="bold" textLength="20.4" lengthAdjust="spacingAndGlyphs" style="stroke:#000;stroke-width:0.3px">200</text>
<line x1="508.1" y1="654.2" x2="508.1" y2="657.8" stroke="#000" stroke-width="1.1"/>
<line x1="517.5" y1="654.2" x2="517.5" y2="657.8" stroke="#000" stroke-width="1.1"/>
<line x1="524.8" y1="654.2" x2="524.8" y2="657.8" stroke="#000" stroke-width="1.1"/>
<line x1="530.8" y1="654.2" x2="530.8" y2="657.8" stroke="#000" stroke-width="1.1"/>
<line x1="535.8" y1="654.2" x2="535.8" y2="657.8" stroke="#000" stroke-width="1.1"/>
<line x1="540.2" y1="654.2" x2="540.2" y2="657.8" stroke="#000" stroke-width="1.1"/>
<line x1="544.1" y1="654.2" x2="544.1" y2="657.8" stroke="#000" stroke-width="1.1"/>
<line x1="547.5" y1="654.2" x2="547.5" y2="660.5" stroke="#000" stroke-width="1.1"/>
<text x="546.9" y="673.8" font-size="15.0" text-anchor="middle" font-weight="bold" textLength="13.6" lengthAdjust="spacingAndGlyphs" style="stroke:#000;stroke-width:0.3px">10</text>
<text x="554.2" y="669.2" font-size="8.6" text-anchor="start" font-weight="bold" textLength="4.5" lengthAdjust="spacingAndGlyphs" style="stroke:#000;stroke-width:0.3px">2</text>
<line x1="570.2" y1="654.2" x2="570.2" y2="657.8" stroke="#000" stroke-width="1.1"/>
<line x1="583.4" y1="654.2" x2="583.4" y2="657.8" stroke="#000" stroke-width="1.1"/>
<line x1="592.8" y1="654.2" x2="592.8" y2="657.8" stroke="#000" stroke-width="1.1"/>
<line x1="600.1" y1="654.2" x2="600.1" y2="657.8" stroke="#000" stroke-width="1.1"/>
<line x1="606.1" y1="654.2" x2="606.1" y2="657.8" stroke="#000" stroke-width="1.1"/>
<line x1="611.1" y1="654.2" x2="611.1" y2="657.8" stroke="#000" stroke-width="1.1"/>
<line x1="615.5" y1="654.2" x2="615.5" y2="657.8" stroke="#000" stroke-width="1.1"/>
<line x1="619.4" y1="654.2" x2="619.4" y2="657.8" stroke="#000" stroke-width="1.1"/>
<line x1="622.8" y1="654.2" x2="622.8" y2="660.5" stroke="#000" stroke-width="1.1"/>
<text x="622.2" y="673.8" font-size="15.0" text-anchor="middle" font-weight="bold" textLength="13.6" lengthAdjust="spacingAndGlyphs" style="stroke:#000;stroke-width:0.3px">10</text>
<text x="629.5" y="669.2" font-size="8.6" text-anchor="start" font-weight="bold" textLength="4.5" lengthAdjust="spacingAndGlyphs" style="stroke:#000;stroke-width:0.3px">3</text>
<line x1="645.5" y1="654.2" x2="645.5" y2="657.8" stroke="#000" stroke-width="1.1"/>
<line x1="658.7" y1="654.2" x2="658.7" y2="657.8" stroke="#000" stroke-width="1.1"/>
<line x1="668.1" y1="654.2" x2="668.1" y2="657.8" stroke="#000" stroke-width="1.1"/>
<line x1="675.4" y1="654.2" x2="675.4" y2="657.8" stroke="#000" stroke-width="1.1"/>
<line x1="681.4" y1="654.2" x2="681.4" y2="657.8" stroke="#000" stroke-width="1.1"/>
<line x1="686.4" y1="654.2" x2="686.4" y2="657.8" stroke="#000" stroke-width="1.1"/>
<line x1="690.8" y1="654.2" x2="690.8" y2="657.8" stroke="#000" stroke-width="1.1"/>
<line x1="694.7" y1="654.2" x2="694.7" y2="657.8" stroke="#000" stroke-width="1.1"/>
<line x1="698.1" y1="654.2" x2="698.1" y2="660.5" stroke="#000" stroke-width="1.1"/>
<text x="697.5" y="673.8" font-size="15.0" text-anchor="middle" font-weight="bold" textLength="13.6" lengthAdjust="spacingAndGlyphs" style="stroke:#000;stroke-width:0.3px">10</text>
<text x="704.8" y="669.2" font-size="8.6" text-anchor="start" font-weight="bold" textLength="4.5" lengthAdjust="spacingAndGlyphs" style="stroke:#000;stroke-width:0.3px">4</text>
<line x1="720.8" y1="654.2" x2="720.8" y2="657.8" stroke="#000" stroke-width="1.1"/>
<line x1="734.0" y1="654.2" x2="734.0" y2="657.8" stroke="#000" stroke-width="1.1"/>
<line x1="743.4" y1="654.2" x2="743.4" y2="657.8" stroke="#000" stroke-width="1.1"/>
<line x1="750.7" y1="654.2" x2="750.7" y2="657.8" stroke="#000" stroke-width="1.1"/>
<line x1="756.7" y1="654.2" x2="756.7" y2="657.8" stroke="#000" stroke-width="1.1"/>
<line x1="761.7" y1="654.2" x2="761.7" y2="657.8" stroke="#000" stroke-width="1.1"/>
<line x1="766.1" y1="654.2" x2="766.1" y2="657.8" stroke="#000" stroke-width="1.1"/>
<line x1="770.0" y1="654.2" x2="770.0" y2="657.8" stroke="#000" stroke-width="1.1"/>
<line x1="773.4" y1="654.2" x2="773.4" y2="660.5" stroke="#000" stroke-width="1.1"/>
<text x="772.8" y="673.8" font-size="15.0" text-anchor="middle" font-weight="bold" textLength="13.6" lengthAdjust="spacingAndGlyphs" style="stroke:#000;stroke-width:0.3px">10</text>
<text x="780.1" y="669.2" font-size="8.6" text-anchor="start" font-weight="bold" textLength="4.5" lengthAdjust="spacingAndGlyphs" style="stroke:#000;stroke-width:0.3px">5</text>
<line x1="796.1" y1="654.2" x2="796.1" y2="657.8" stroke="#000" stroke-width="1.1"/>
<polygon points="499.5,654.2 499.5,654.0 500.1,653.7 501.1,653.1 502.2,650.6 503.2,652.3 504.3,651.6 505.3,654.1 506.4,653.7 507.5,652.7 508.5,649.7 509.6,649.5 510.6,650.9 511.7,647.7 512.8,649.5 513.8,647.4 514.9,644.3 516.0,648.2 517.0,648.5 518.0,648.2 519.1,645.0 520.2,647.4 521.2,644.3 522.2,645.6 523.3,641.3 524.3,643.2 525.4,642.0 526.4,636.7 527.5,635.8 528.5,637.7 529.6,636.9 530.7,638.6 531.7,635.8 532.8,638.5 533.8,631.8 534.9,633.7 535.9,637.8 537.0,633.8 538.0,636.9 539.0,637.8 540.1,632.7 541.2,630.0 542.2,622.2 543.3,620.0 544.4,625.9 545.4,622.4 546.5,628.5 547.5,632.4 548.6,631.6 549.6,629.9 550.7,623.3 551.7,622.1 552.8,626.0 553.8,626.3 554.8,621.5 555.9,612.7 557.0,621.4 558.0,623.2 559.0,620.8 560.1,614.8 561.2,617.9 562.3,613.7 563.3,616.3 564.4,611.6 565.5,615.6 566.5,616.9 567.5,620.6 568.6,617.1 569.6,621.1 570.7,623.8 571.7,621.5 572.8,625.3 573.8,621.6 574.9,610.5 575.9,613.4 577.0,610.5 578.0,614.8 579.1,613.5 580.1,606.3 581.2,606.3 582.2,619.0 583.3,624.2 584.4,619.0 585.4,609.0 586.5,603.2 587.5,610.4 588.6,614.8 589.6,617.1 590.7,612.8 591.7,613.7 592.9,612.7 594.1,606.2 595.3,606.3 596.7,616.9 598.1,620.0 599.1,625.2 600.2,623.4 601.2,628.5 602.2,625.7 603.3,616.9 604.4,619.4 605.4,616.1 606.5,620.0 607.5,623.1 608.6,619.9 609.6,624.2 610.9,627.4 612.1,621.4 613.4,622.1 614.7,629.1 616.0,630.6 617.0,635.5 618.1,633.3 619.1,636.9 620.2,639.3 621.2,635.0 622.3,639.0 623.3,643.5 624.4,640.6 625.4,643.2 626.6,644.8 627.8,638.9 629.0,641.1 630.4,646.0 631.8,648.5 632.8,650.3 633.9,648.3 635.0,650.4 636.0,649.5 637.0,651.3 638.1,648.7 639.2,651.9 640.2,650.6 641.3,652.1 642.3,651.6 643.4,653.3 644.4,653.7 645.5,650.3 646.5,650.6 647.5,653.1 648.6,653.7 649.6,653.7 650.6,652.7 651.6,654.2 652.6,653.3 653.6,654.2 654.6,653.0 655.6,653.5 656.7,654.0 657.7,652.7 658.8,653.8 659.8,652.3 660.9,653.3 661.9,651.7 663.0,652.6 664.1,653.0 665.1,651.2 666.2,652.8 667.2,651.0 668.3,653.5 669.3,651.1 670.4,652.0 671.6,652.6 672.9,649.7 674.1,649.8 675.5,652.6 676.9,652.6 678.7,642.4 680.6,646.1 681.8,644.2 683.1,637.2 684.3,635.0 685.7,635.9 687.1,629.4 688.5,632.2 689.9,630.3 691.7,620.1 693.6,603.4 695.4,581.2 697.3,562.6 698.6,546.0 699.7,538.5 700.8,537.0 701.9,531.1 702.8,527.4 704.7,532.0 706.3,520.3 707.2,497.3 708.1,484.0 709.2,485.8 710.4,480.4 711.7,474.2 712.6,460.0 713.4,449.4 714.3,438.8 714.9,415.7 715.6,403.3 716.5,426.4 717.5,433.5 718.4,424.6 719.3,405.1 720.2,422.8 721.1,440.6 722.3,417.5 724.1,415.7 725.9,422.8 727.6,429.9 729.4,444.1 730.5,446.3 731.7,444.1 732.9,454.7 734.2,476.0 735.2,499.1 736.5,518.6 737.4,530.0 738.1,540.4 739.9,542.3 741.8,575.6 743.6,603.4 744.9,609.0 746.4,631.3 747.8,635.2 749.2,633.1 751.1,638.7 752.9,649.8 754.8,653.1 756.1,653.4 757.5,652.6 758.5,653.3 759.6,654.2 760.6,654.2 761.7,654.2 762.7,654.2 763.7,654.2 764.8,654.2 765.8,652.4 766.8,653.2 767.9,654.2 768.9,651.4 770.0,654.2 771.0,653.0 771.5,652.0 772.0,653.5 773.0,653.3 774.0,651.1 775.0,654.2 776.0,654.2 777.0,653.2 778.0,653.3 779.0,654.2 780.0,654.2 781.0,654.2 782.0,653.2 783.0,653.3 784.0,653.2 785.0,651.4 786.0,654.2 787.0,653.2 788.0,654.2 789.0,654.2 790.0,651.3 791.0,654.2 792.0,651.0 793.0,654.2 794.0,654.2 795.0,653.2 796.0,653.2 797.0,654.2 798.0,654.2 799.0,653.3 800.0,653.2 801.0,654.0 801.0,654.2" fill="#fe4a85" stroke="#ff2a55" stroke-width="0.6" stroke-linejoin="round"/>
<line x1="499.4" y1="394.3" x2="499.4" y2="654.7" stroke="#000" stroke-width="1.4"/>
<line x1="492.9" y1="654.2" x2="801.9" y2="654.2" stroke="#000" stroke-width="1.4"/>
<text transform="translate(438.0,535.3) rotate(-90)" x="0" y="0" font-size="18.8" text-anchor="middle" textLength="134.5" style="stroke:#000;stroke-width:0.3px" lengthAdjust="spacingAndGlyphs">Number of Cells</text>
<text class="cap" x="494.4" y="713.6" font-size="16.2" textLength="276.5" lengthAdjust="spacingAndGlyphs">Qdot<tspan font-size="11.5" dy="-5.2">®</tspan><tspan dy="5.2"> 800 anti-human CD8 conjugate</tspan></text>
<text class="cap" x="533.0" y="734.4" font-size="16.2" textLength="198.8" lengthAdjust="spacingAndGlyphs">780/60 nm band pass filter</text>
</svg>
</body></html>
